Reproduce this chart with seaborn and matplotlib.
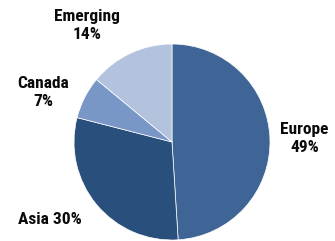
import matplotlib
matplotlib.use("Agg")
import matplotlib.pyplot as plt
import seaborn as sns

regions = ["Europe", "Asia", "Canada", "Emerging"]
shares = [49, 30, 7, 14]
colors = ["#3E6595", "#29507D", "#7897C6", "#B3C2DD"]
# label layout: separator between name and value
label_sep = ["\n", " ", "\n", "\n"]
label_pos = [(1.35, 0.04), (-1.25, -0.79), (-1.31, 0.51), (-0.87, 1.19)]

sns.set_style("white")
plt.rcParams['font.family'] = ['Roboto Condensed', 'DejaVu Sans']

fig = plt.figure(figsize=(3.35, 2.41), dpi=100)
ax = fig.add_axes([(172 - 98) / 335, 1 / 241, 196 / 335, 196 / 241])

ax.pie(shares, colors=colors, startangle=90, counterclock=False,
       radius=1, wedgeprops=dict(edgecolor="white", linewidth=0.5))
ax.set_xlim(-1, 1)
ax.set_ylim(-1, 1)
ax.set_aspect("equal")
ax.axis("off")

for name, val, sep, (x, y) in zip(regions, shares, label_sep, label_pos):
    ax.text(x, y, f"{name}{sep}{val}%", ha="center", va="center",
            fontsize=12.5, fontweight="bold", color="#0a0a0a",
            linespacing=1.25, clip_on=False)

fig.savefig("out.png", dpi=100)
